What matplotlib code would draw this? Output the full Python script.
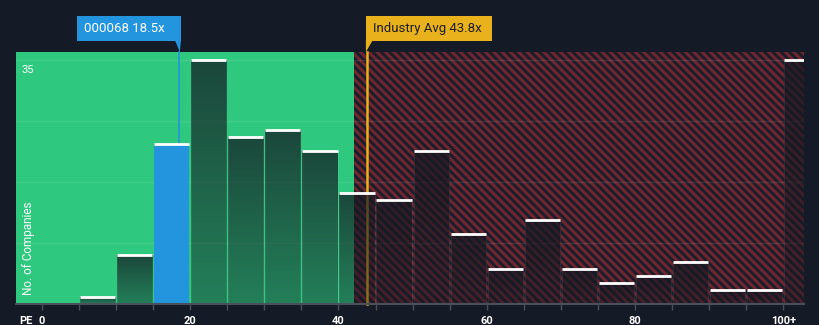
import numpy as np
import matplotlib.pyplot as plt
from matplotlib.patches import Rectangle, Polygon
import matplotlib.transforms as mtransforms

plt.rcParams['font.family'] = ['Roboto', 'DejaVu Sans']
plt.rcParams['hatch.linewidth'] = 2.2

# PE histogram (bins of 5, last bin is 100+)
bin_starts = [0, 5, 10, 15, 20, 25, 30, 35, 40, 45, 50, 55, 60, 65, 70, 75, 80, 85, 90, 95, 100]
counts = [0, 1, 7, 23, 35, 24, 25, 22, 16, 15, 22, 10, 5, 12, 5, 3, 4, 6, 2, 2, 35]
company_pe = 18.5
company_name = "000068"
industry_avg = 43.8
fair_limit = 42.1
xtick_vals = [0, 20, 40, 60, 80, 100]
xtick_labels = ["0", "20", "40", "60", "80", "100+"]
ymax_label = 35

bg = "#151b26"
green = "#2ec97f"
blue = "#2394de"
yellow = "#e9b11c"
red_hatch = "#6e2630"

fig = plt.figure(figsize=(8.2, 3.25), dpi=100, facecolor=bg)
ax = fig.add_axes([16 / 820, 21 / 325, 788 / 820, 252 / 325])
ax.set_facecolor(bg)
xmin, xmax = -3.5, 102.8
ymax = 36.2

# green (undervalued) and hatched red region
ax.add_patch(Rectangle((xmin, 0), fair_limit - xmin, ymax, facecolor=green, lw=0, zorder=0))
ax.add_patch(Rectangle((fair_limit, 0), xmax - fair_limit, ymax, facecolor="#1b1d29",
                       edgecolor=red_hatch, hatch="\\\\\\\\", lw=0, zorder=0))

# gridlines
for g in np.linspace(0, ymax_label, 5)[1:]:
    ax.axhline(g, color="white", alpha=0.09, lw=1, zorder=1)

# reference lines (under bars)
ax.plot([industry_avg, industry_avg], [0, ymax], color=yellow, lw=1.8, zorder=2, clip_on=False)
ax.plot([company_pe, company_pe], [counts[3], ymax], color=blue, lw=1.2, zorder=2, clip_on=False)

# bars
w = 4.75
grad = np.zeros((64, 1, 4))
grad[..., 0] = 0.08
grad[..., 1] = 0.10
grad[..., 2] = 0.14
grad[:, 0, 3] = np.linspace(0.74, 0.42, 64)
for x0, c in zip(bin_starts, counts):
    if c == 0:
        continue
    left = x0 + (5 - w) / 2
    right = min(left + w, xmax)
    if x0 == 15:
        ax.add_patch(Rectangle((left, 0), w, c, facecolor=blue, lw=0, zorder=3))
    else:
        rect = Rectangle((left, 0), right - left, c, facecolor="none", lw=0.8,
                         edgecolor=(1, 1, 1, 0.07), zorder=4)
        ax.add_patch(rect)
        im = ax.imshow(grad, extent=(left, right, 0, c), aspect="auto",
                       interpolation="bilinear", origin="upper", zorder=3)
        im.set_clip_path(rect)
    ax.plot([left, right], [c, c], color="white", lw=2, zorder=5, solid_capstyle="butt")

ax.set_xlim(xmin, xmax)
ax.set_ylim(0, ymax)

# axes styling
for s in ax.spines.values():
    s.set_visible(False)
ax.axhline(0, color="#4a4f5a", lw=1.5, zorder=6, clip_on=False)
ax.set_yticks([])
ax.set_xticks(bin_starts)
ax.set_xticklabels([])
ax.tick_params(axis="x", length=4, width=1, color="#4a4f5a", direction="out")
for v, lab in zip(xtick_vals, xtick_labels):
    ax.text(v, -2.85, lab, color="white", fontsize=8, fontweight="bold",
            ha="center", va="baseline")
ax.text(-3.1, -2.85, "PE", color="white", fontsize=8, fontweight="bold", ha="left", va="baseline")
ax.text(-2.7, ymax_label - 0.6, str(ymax_label), color="white", fontsize=8,
        ha="left", va="top", zorder=7)
ax.text(-1.8, 1.3, "No. of Companies", color="white", fontsize=8.5, rotation=90,
        ha="center", va="bottom", zorder=7)

# callout labels
trans = mtransforms.blended_transform_factory(ax.transData, ax.transAxes)
y0, y1 = 1.044, 1.143
bx1 = company_pe + 0.25
bx0 = bx1 - 14.0
ax.add_patch(Rectangle((bx0, y0), bx1 - bx0, y1 - y0, transform=trans, facecolor=blue,
                       lw=0, clip_on=False, zorder=8))
ax.add_patch(Polygon([(bx1 - 0.8, y0 + 0.002), (bx1, y0 + 0.002), (company_pe + 0.1, 1.0)],
                     closed=True, transform=trans, facecolor=blue, lw=0, clip_on=False, zorder=8))
ax.text(bx0 + 0.9, (y0 + y1) / 2, f"{company_name} {company_pe}x", transform=trans,
        color="white", fontsize=9.5, ha="left", va="center", zorder=9)

ix0 = industry_avg - 0.1
ix1 = ix0 + 17.0
ax.add_patch(Rectangle((ix0, y0), ix1 - ix0, y1 - y0, transform=trans, facecolor=yellow,
                       lw=0, clip_on=False, zorder=8))
ax.add_patch(Polygon([(ix0, y0 + 0.002), (ix0 + 0.9, y0 + 0.002), (ix0, 1.0)],
                     closed=True, transform=trans, facecolor=yellow, lw=0, clip_on=False, zorder=8))
ax.text(ix0 + 0.9, (y0 + y1) / 2, f"Industry Avg {industry_avg}x", transform=trans,
        color="#1c1c1c", fontsize=9.5, ha="left", va="center", zorder=9)

fig.savefig("out.png", dpi=100, facecolor=bg)
